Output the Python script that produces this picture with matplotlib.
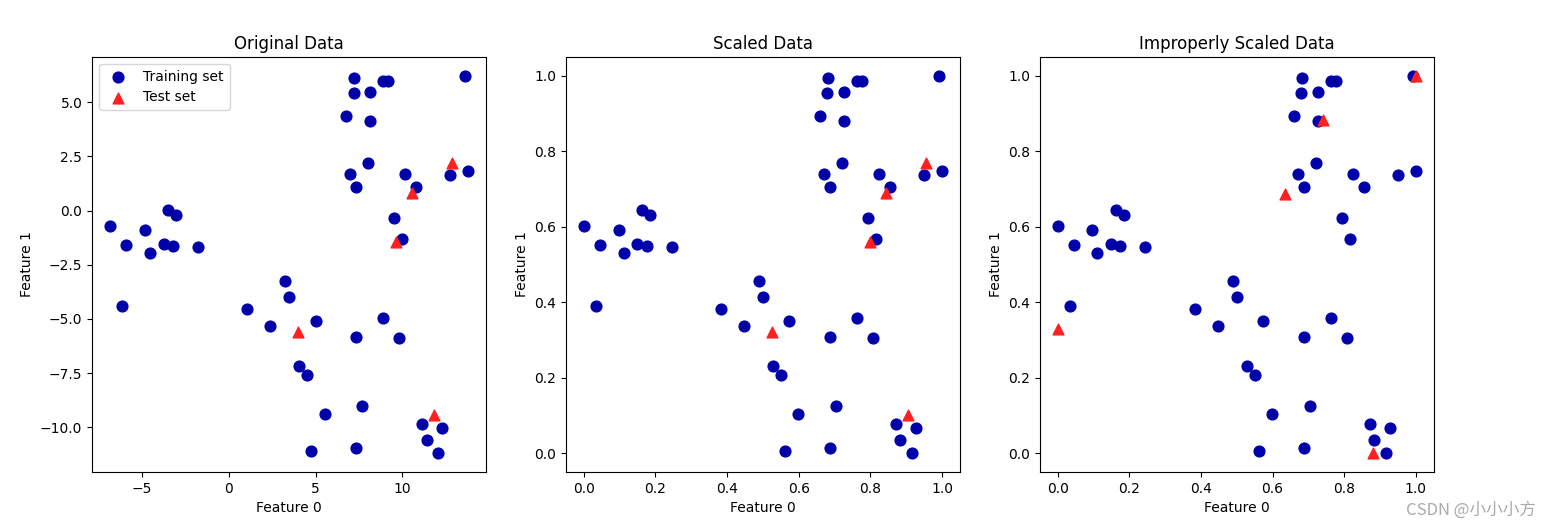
import numpy as np
import matplotlib
matplotlib.use("Agg")
import matplotlib.pyplot as plt

# training points, original feature values
train_f0 = [-6.84, -5.91, -4.84, -4.55, -3.48, -3.04, -3.75, -3.23, -1.79, -6.12,
            1.04, 2.40, 3.27, 3.50, 7.23, 8.88, 9.17, 13.62, 7.19, 8.16,
            6.75, 8.16, 8.03, 7.00, 7.35, 10.16, 10.80, 12.74, 13.79, 9.54,
            9.99, 5.00, 7.33, 8.88, 9.83, 4.05, 4.53, 5.52, 7.70, 4.75,
            7.33, 11.15, 12.30, 11.40, 12.06]
train_f1 = [-0.70, -1.60, -0.89, -1.98, 0.05, -0.19, -1.53, -1.62, -1.67, -4.39,
            -4.53, -5.31, -3.24, -3.97, 6.10, 5.99, 5.99, 6.22, 5.44, 5.49,
            4.37, 4.15, 2.21, 1.71, 1.10, 1.71, 1.10, 1.66, 1.81, -0.36,
            -1.29, -5.09, -5.82, -4.95, -5.87, -7.16, -7.61, -9.37, -9.04, -11.12,
            -10.94, -9.86, -10.02, -10.61, -11.20]

# test points
test_f0 = [12.88, 10.57, 9.64, 4.01, 11.83]
test_f1 = [2.18, 0.82, -1.45, -5.59, -9.42]

titles = ["Original Data", "Scaled Data", "Improperly Scaled Data"]

X_train = np.column_stack([train_f0, train_f1])
X_test = np.column_stack([test_f0, test_f1])

# min-max scaling fitted on training set
tmin, tmax = X_train.min(axis=0), X_train.max(axis=0)
X_train_scaled = (X_train - tmin) / (tmax - tmin)
X_test_scaled = (X_test - tmin) / (tmax - tmin)

# scaling test set on its own (the wrong way)
smin, smax = X_test.min(axis=0), X_test.max(axis=0)
X_test_bad = (X_test - smin) / (smax - smin)

blue = "#0000aa"
red = "#ff2020"

fig, axes = plt.subplots(1, 3, figsize=(15.5, 5.28), dpi=100)
fig.subplots_adjust(left=0.0594, right=0.925, top=0.892, bottom=0.106, wspace=0.203)

pairs = [(X_train, X_test), (X_train_scaled, X_test_scaled), (X_train_scaled, X_test_bad)]
for ax, (tr, te), title in zip(axes, pairs, titles):
    ax.scatter(tr[:, 0], tr[:, 1], c=blue, label="Training set", s=60)
    ax.scatter(te[:, 0], te[:, 1], marker="^", c=red, label="Test set", s=60)
    ax.set_title(title)
    ax.set_xlabel("Feature 0")
    ax.set_ylabel("Feature 1")

axes[0].legend(loc="upper left")

fig.text(0.991, 0.034, "CSDN @小小小方", ha="right", va="center", fontsize=12,
         color="#aaaaaa", family=["Noto Sans CJK SC", "DejaVu Sans"])

plt.savefig("out.png", dpi=100)
